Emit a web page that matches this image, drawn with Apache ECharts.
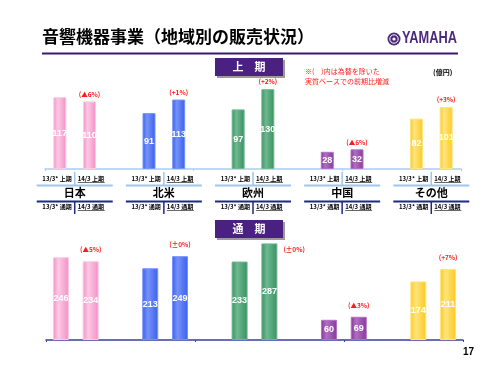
<!DOCTYPE html>
<html>
<head>
<meta charset="utf-8">
<script src="https://cdn.jsdelivr.net/npm/echarts@6/dist/echarts.min.js"></script>
<style>
  html, body { margin: 0; padding: 0; background: #fff; }
  #chart { width: 500px; height: 375px; }
</style>
</head>
<body>
<div id="chart"></div>
<script>
// data (億円)
var regions = ['日本', '北米', '欧州', '中国', 'その他'];
var h1Prev = [117, 91, 97, 28, 82];
var h1Curr = [110, 113, 130, 32, 101];
var fyPrev = [246, 213, 233, 60, 174];
var fyCurr = [234, 249, 287, 69, 211];
var h1Pct = ['(▲6%)', '(+1%)', '(+2%)', '(▲6%)', '(+3%)'];
var fyPct = ['(▲5%)', '(±0%)', '(±0%)', '(▲3%)', '(+7%)'];
var h1Labels = ['13/3* 上期', '14/3 上期'];
var fyLabels = ['13/3* 通期', '14/3 通期'];

var colors = [
  ['#f38fc6', '#fcc9e4'],
  ['#3a5fef', '#7592f8'],
  ['#37905f', '#6fb991'],
  ['#86379a', '#b06fc2'],
  ['#fcc920', '#ffe47e']
];

var FONT = '"Noto Sans CJK JP", "Noto Sans", sans-serif';
var chart = echarts.init(document.getElementById('chart'));

function grad(r) {
  return new echarts.graphic.LinearGradient(0, 0, 1, 0, [
    { offset: 0, color: colors[r][0] },
    { offset: 0.35, color: colors[r][1] },
    { offset: 1, color: colors[r][0] }
  ]);
}

// 14 slots: pair of bars per region + empty gap
var nSlots = regions.length * 3 - 1;
function cats(pair) {
  var out = [];
  for (var i = 0; i < nSlots; i++) {
    out.push(i % 3 < 2 ? regions[Math.floor(i / 3)] + ' ' + pair[i % 3] : '');
  }
  return out;
}
function barData(prev, curr) {
  var out = [];
  for (var i = 0; i < nSlots; i++) {
    var r = Math.floor(i / 3), p = i % 3;
    if (p == 2) { out.push('-'); continue; }
    out.push({
      value: p == 0 ? prev[r] : curr[r],
      itemStyle: { color: grad(r), borderColor: colors[r][1], borderWidth: 1 }
    });
  }
  return out;
}
function pctData(curr, pct, dist, special) {
  var out = [];
  for (var i = 0; i < nSlots; i++) {
    var r = Math.floor(i / 3), p = i % 3;
    if (p != 1) { out.push('-'); continue; }
    var item = { value: curr[r], label: { formatter: pct[r], distance: dist } };
    if (special && special[r]) item.label = Object.assign(item.label, special[r]);
    out.push(item);
  }
  return out;
}

// grid geometry
var g1 = { left: 45, top: 83, width: 416, height: 86 };
var g2 = { left: 46, top: 239, width: 417, height: 101 };

var valueLabel = {
  show: true, position: 'inside', color: '#fff', fontWeight: 'bold',
  fontSize: 9, fontFamily: 'Arial, sans-serif'
};
var pctLabel = {
  show: true, position: 'top', color: '#ff1a1a', fontWeight: 'bold',
  fontSize: 6.5, fontFamily: FONT
};

// decorations: region names and label rows
var graphics = [];
function txt(x, y, s, style) {
  graphics.push({ type: 'text', x: x, y: y, style: Object.assign({
    text: s, fontFamily: FONT, fill: '#000', textAlign: 'left', textVerticalAlign: 'middle'
  }, style) });
}
function line(x1, y1, x2, y2, color, w) {
  graphics.push({ type: 'line', shape: { x1: x1, y1: y1, x2: x2, y2: y2 },
    style: { stroke: color, lineWidth: w } });
}
var slot = g1.width / nSlots;
var small = { fontSize: 6, fontWeight: 'bold' };
for (var r = 0; r < regions.length; r++) {
  var cx = g1.left + (3 * r + 1) * slot;
  // first period row
  txt(cx - 3, 179, h1Labels[0], Object.assign({ textAlign: 'right' }, small));
  txt(cx + 3, 179, h1Labels[1], small);
  line(cx + 3, 182.5, cx + 30, 182.5, '#000', 0.6);
  line(cx - 38, 185.5, cx + 38, 185.5, '#9cc6ee', 2);
  line(cx, 172, cx, 186, '#9cc6ee', 1.5);
  txt(cx, 193, regions[r], { fontSize: 11, fontWeight: 'bold', textAlign: 'center' });
  // full year row
  line(cx - 38, 201.5, cx + 38, 201.5, '#1c2a8a', 2);
  line(cx, 201, cx, 214, '#1c2a8a', 1.5);
  txt(cx - 3, 207, fyLabels[0], Object.assign({ textAlign: 'right' }, small));
  txt(cx + 3, 207, fyLabels[1], small);
  line(cx + 3, 210.5, cx + 30, 210.5, '#000', 0.6);
}

// title & header
txt(42, 37, '音響機器事業（地域別の販売状況）', { fontSize: 17, fontWeight: 'bold' });
line(42, 53.5, 458, 53.5, '#3b1a6e', 2);
graphics.push({ type: 'circle', shape: { cx: 394, cy: 39, r: 6.5 }, style: { fill: '#4b2a7c' } });
graphics.push({ type: 'circle', shape: { cx: 394, cy: 39, r: 4.2 }, style: { fill: 'none', stroke: '#fff', lineWidth: 1 } });
graphics.push({ type: 'circle', shape: { cx: 394, cy: 39, r: 1.6 }, style: { fill: '#fff' } });
graphics.push({ type: 'text', x: 402, y: 39, scaleX: 0.8, style: {
  text: 'YAMAHA', fontFamily: '"Liberation Sans", Arial, sans-serif', fontSize: 16,
  fontWeight: 'bold', fill: '#4b2a7c', textVerticalAlign: 'middle' } });

function tag(y, s) {
  graphics.push({ type: 'rect', shape: { x: 217, y: y + 2, width: 68, height: 18 }, style: { fill: '#9a9a9a' } });
  graphics.push({ type: 'rect', shape: { x: 215, y: y, width: 68, height: 18 }, style: { fill: '#4a2180' } });
  txt(249, y + 9, s, { fontSize: 11, fontWeight: 'bold', fill: '#fff', textAlign: 'center' });
}
tag(58, '上　期');
tag(220, '通　期');

txt(305, 71, '※(　)内は為替を除いた', { fontSize: 7, fill: '#ff2020' });
txt(305, 81, '実質ベースでの前期比増減', { fontSize: 7, fill: '#ff2020' });
txt(433, 72, '(億円)', { fontSize: 7, fontWeight: 'bold' });
txt(463, 352, '17', { fontSize: 10, fontWeight: 'bold', fontFamily: 'Arial, sans-serif' });

var option = {
  animation: false,
  backgroundColor: '#fff',
  grid: [
    { left: g1.left, top: g1.top, width: g1.width, height: g1.height },
    { left: g2.left, top: g2.top, width: g2.width, height: g2.height }
  ],
  xAxis: [
    {
      type: 'category', gridIndex: 0, data: cats(h1Labels),
      axisLine: { lineStyle: { color: '#a9cdf0', width: 1.5 } },
      axisTick: { show: true, length: 2, lineStyle: { color: '#a9cdf0' } },
      axisLabel: { show: false }
    },
    {
      type: 'category', gridIndex: 1, data: cats(fyLabels),
      axisLine: { lineStyle: { color: '#3a3ea0', width: 1.5 } },
      axisTick: { show: true, length: 2, lineStyle: { color: '#3a3ea0' } },
      axisLabel: { show: false }
    }
  ],
  yAxis: [
    { type: 'value', gridIndex: 0, min: 0, max: 140, show: false },
    { type: 'value', gridIndex: 1, min: 0, max: 300, show: false }
  ],
  series: [
    {
      type: 'bar', xAxisIndex: 0, yAxisIndex: 0, barWidth: 13,
      data: barData(h1Prev, h1Curr), label: valueLabel
    },
    {
      type: 'bar', xAxisIndex: 0, yAxisIndex: 0, barWidth: 13, barGap: '-100%',
      itemStyle: { color: 'rgba(0,0,0,0)' }, silent: true,
      data: pctData(h1Curr, h1Pct, 4), label: pctLabel
    },
    {
      type: 'bar', xAxisIndex: 1, yAxisIndex: 1, barWidth: 16,
      data: barData(fyPrev, fyCurr), label: valueLabel
    },
    {
      type: 'bar', xAxisIndex: 1, yAxisIndex: 1, barWidth: 16, barGap: '-100%',
      itemStyle: { color: 'rgba(0,0,0,0)' }, silent: true,
      data: pctData(fyCurr, fyPct, 8, { 2: { position: [22, 6], align: 'left', verticalAlign: 'middle' } }),
      label: pctLabel
    }
  ],
  graphic: graphics
};

chart.setOption(option);
</script>
</body>
</html>
